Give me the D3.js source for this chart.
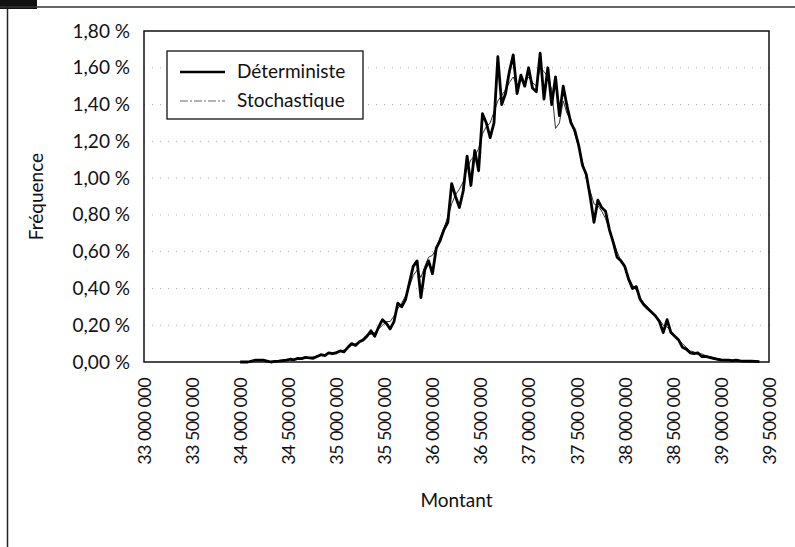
<!DOCTYPE html>
<html>
<head>
<meta charset="utf-8">
<script src="https://cdn.jsdelivr.net/npm/d3@7"></script>
<style>
  body { margin: 0; background: #fff; }
  text { font-family: Lato, "Open Sans", sans-serif; fill: #111; }
</style>
</head>
<body>
<script>
// bins of the histogram (montant), every 40 000 from 34 000 000
var binStart = 34000000;
var binStep = 40000;

// frequencies in %
var deterministe = [
  0, 0, 0, 0.005, 0.01, 0.01, 0.01, 0.005, 0, 0.003,
  0.005, 0.008, 0.01, 0.015, 0.012, 0.02, 0.018, 0.025, 0.022, 0.02,
  0.03, 0.04, 0.035, 0.05, 0.045, 0.05, 0.06, 0.055, 0.08, 0.10,
  0.09, 0.11, 0.12, 0.14, 0.17, 0.14, 0.19, 0.23, 0.21, 0.18,
  0.22, 0.32, 0.30, 0.34, 0.43, 0.52, 0.55, 0.35, 0.50, 0.55,
  0.48, 0.62, 0.66, 0.72, 0.76, 0.97, 0.90, 0.84, 0.93, 1.12,
  0.96, 1.15, 1.04, 1.35, 1.30, 1.22, 1.30, 1.66, 1.40, 1.46,
  1.58, 1.67, 1.46, 1.56, 1.50, 1.60, 1.49, 1.47, 1.68, 1.43,
  1.60, 1.40, 1.55, 1.34, 1.50, 1.39, 1.30, 1.26, 1.18, 1.07,
  1.02, 0.90, 0.76, 0.88, 0.84, 0.82, 0.72, 0.65, 0.57, 0.55,
  0.52, 0.45, 0.40, 0.41, 0.34, 0.31, 0.29, 0.27, 0.25, 0.22,
  0.16, 0.23, 0.16, 0.14, 0.12, 0.08, 0.07, 0.05, 0.045, 0.05,
  0.03, 0.03, 0.025, 0.02, 0.015, 0.012, 0.01, 0.01, 0.008, 0.01,
  0.006, 0.005, 0.005, 0.004, 0.003, 0.002
];

var stochastique = [
  0, 0, 0, 0.003, 0.008, 0.01, 0.008, 0.005, 0.002, 0.004,
  0.006, 0.01, 0.012, 0.012, 0.015, 0.018, 0.022, 0.02, 0.025, 0.028,
  0.032, 0.035, 0.04, 0.045, 0.05, 0.055, 0.06, 0.065, 0.075, 0.09,
  0.10, 0.105, 0.13, 0.15, 0.15, 0.16, 0.18, 0.20, 0.22, 0.22,
  0.25, 0.29, 0.32, 0.36, 0.41, 0.47, 0.50, 0.46, 0.52, 0.57,
  0.58, 0.62, 0.68, 0.73, 0.79, 0.86, 0.91, 0.94, 0.98, 1.05,
  1.10, 1.12, 1.16, 1.24, 1.28, 1.30, 1.36, 1.42, 1.45, 1.48,
  1.52, 1.55, 1.50, 1.53, 1.52, 1.55, 1.52, 1.50, 1.60, 1.58,
  1.55, 1.48, 1.27, 1.30, 1.42, 1.35, 1.32, 1.24, 1.17, 1.09,
  1.00, 0.93, 0.86, 0.85, 0.82, 0.78, 0.72, 0.66, 0.60, 0.55,
  0.51, 0.46, 0.42, 0.39, 0.35, 0.32, 0.30, 0.27, 0.25, 0.23,
  0.20, 0.19, 0.17, 0.14, 0.12, 0.10, 0.08, 0.06, 0.055, 0.04,
  0.045, 0.035, 0.03, 0.025, 0.02, 0.015, 0.012, 0.01, 0.008, 0.006,
  0.005, 0.004, 0.003, 0.003, 0.002, 0.001
];

// axis ticks
var xTicks = [33000000, 33500000, 34000000, 34500000, 35000000, 35500000, 36000000,
              36500000, 37000000, 37500000, 38000000, 38500000, 39000000, 39500000];
var yTicks = [0, 0.2, 0.4, 0.6, 0.8, 1.0, 1.2, 1.4, 1.6, 1.8];

var W = 795, H = 547;
var plotL = 144, plotR = 769, plotT = 31, plotB = 362;

var svg = d3.select("body").append("svg")
    .attr("width", W)
    .attr("height", H);

// outer frame of the scanned figure
svg.append("rect").attr("x", 0).attr("y", 0).attr("width", 37).attr("height", 9).attr("fill", "#111");
svg.append("line").attr("x1", 0).attr("x2", W).attr("y1", 7).attr("y2", 7)
    .attr("stroke", "#333").attr("stroke-width", 1.5);
svg.append("line").attr("x1", 7.5).attr("x2", 7.5).attr("y1", 7).attr("y2", H)
    .attr("stroke", "#222").attr("stroke-width", 1.5);

var x = d3.scaleLinear().domain([33000000, 39500000]).range([plotL, plotR]);
var y = d3.scaleLinear().domain([0, 1.8]).range([plotB, plotT]);

var fmtPct = function(d) { return d3.format(".2f")(d).replace(".", ",") + " %"; };
var fmtMnt = function(d) { return d3.format(",")(d).replace(/,/g, " "); };

// dotted gridlines (very faint in the scan)
svg.append("g")
  .selectAll("line")
  .data(yTicks.slice(1, -1))
  .enter().append("line")
    .attr("x1", plotL).attr("x2", plotR)
    .attr("y1", function(d) { return y(d); })
    .attr("y2", function(d) { return y(d); })
    .attr("stroke", "#aaa")
    .attr("stroke-width", 1)
    .attr("stroke-dasharray", "1,7");

// y axis labels
var yAxis = svg.append("g")
    .attr("transform", "translate(" + plotL + ",0)")
    .call(d3.axisLeft(y).tickValues(yTicks).tickFormat(fmtPct).tickSize(0).tickPadding(14));
yAxis.select(".domain").remove();
yAxis.selectAll("text")
    .attr("font-size", 19)
    .attr("font-family", "Lato, sans-serif")
    .attr("fill", "#111");

// x axis labels, vertical
var xAxis = svg.append("g")
    .attr("transform", "translate(0," + plotB + ")")
    .call(d3.axisBottom(x).tickValues(xTicks).tickFormat(fmtMnt).tickSize(0));
xAxis.select(".domain").remove();
xAxis.selectAll("text")
    .attr("font-size", 18)
    .attr("font-family", "Lato, sans-serif")
    .attr("letter-spacing", -0.6)
    .attr("fill", "#111")
    .attr("text-anchor", "end")
    .attr("transform", "rotate(-90)")
    .attr("x", -16)
    .attr("y", 0)
    .attr("dy", "0.35em");

// plot border
svg.append("rect")
    .attr("x", plotL).attr("y", plotT)
    .attr("width", plotR - plotL).attr("height", plotB - plotT)
    .attr("fill", "none")
    .attr("stroke", "#111")
    .attr("stroke-width", 1.5);

var line = d3.line()
    .x(function(d, i) { return x(binStart + i * binStep); })
    .y(function(d) { return y(d); });

svg.append("path")
    .datum(stochastique)
    .attr("d", line)
    .attr("fill", "none")
    .attr("stroke", "#333")
    .attr("stroke-width", 1);

svg.append("path")
    .datum(deterministe)
    .attr("d", line)
    .attr("fill", "none")
    .attr("stroke", "#000")
    .attr("stroke-width", 2.8)
    .attr("stroke-linejoin", "round");

// legend
var legend = svg.append("g");
legend.append("rect")
    .attr("x", 167).attr("y", 51).attr("width", 196).attr("height", 68)
    .attr("fill", "#fff").attr("stroke", "#111").attr("stroke-width", 1.3);
legend.append("line").attr("x1", 180).attr("x2", 225).attr("y1", 72).attr("y2", 72)
    .attr("stroke", "#000").attr("stroke-width", 2.6);
legend.append("line").attr("x1", 180).attr("x2", 225).attr("y1", 101).attr("y2", 101)
    .attr("stroke", "#666").attr("stroke-width", 1)
    .attr("stroke-dasharray", "8,2,2,2");
legend.append("text").attr("x", 237).attr("y", 78).attr("font-size", 19).text("Déterministe");
legend.append("text").attr("x", 237).attr("y", 107).attr("font-size", 19).text("Stochastique");

// axis titles
svg.append("text")
    .attr("transform", "translate(43," + ((plotT + plotB) / 2) + ") rotate(-90)")
    .attr("text-anchor", "middle")
    .attr("font-size", 19)
    .text("Fréquence");

svg.append("text")
    .attr("x", (plotL + plotR) / 2)
    .attr("y", 507)
    .attr("text-anchor", "middle")
    .attr("font-size", 19)
    .text("Montant");
</script>
</body>
</html>
